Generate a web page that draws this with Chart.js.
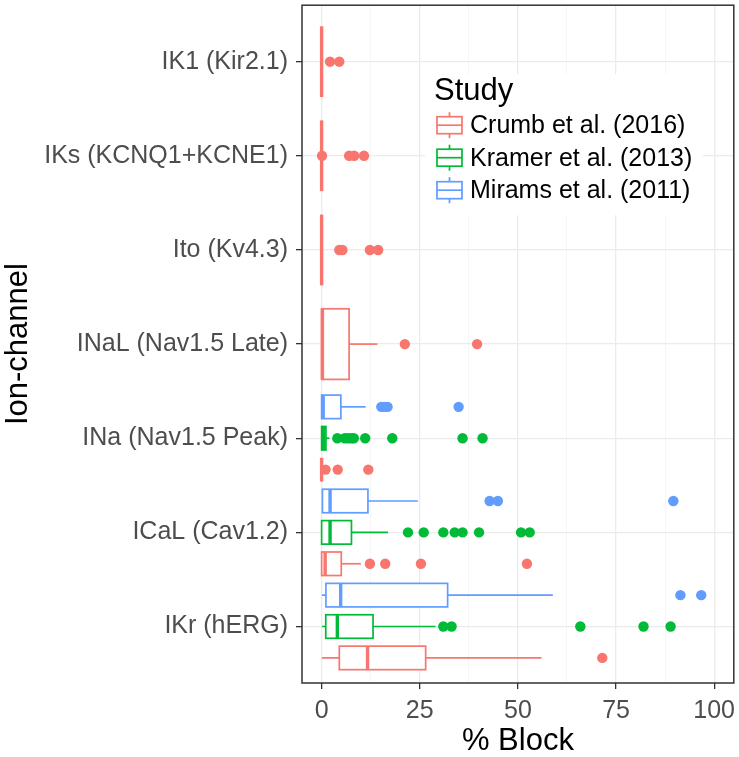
<!DOCTYPE html>
<html>
<head>
<meta charset="utf-8">
<script src="https://cdn.jsdelivr.net/npm/chart.js@4"></script>
<style>
  body { margin: 0; background: #fff; }
  #wrap { width: 739px; height: 757px; }
</style>
</head>
<body>
<div id="wrap"><canvas id="boxChart"></canvas></div>
<script>
// channels from bottom to top of the y axis
var channels = ['IKr (hERG)', 'ICaL (Cav1.2)', 'INa (Nav1.5 Peak)', 'INaL (Nav1.5 Late)',
                'Ito (Kv4.3)', 'IKs (KCNQ1+KCNE1)', 'IK1 (Kir2.1)'];
var studies = ['Crumb et al. (2016)', 'Kramer et al. (2013)', 'Mirams et al. (2011)'];
var colors = ['#F8766D', '#00BA38', '#619CFF'];
var xTicks = [0, 25, 50, 75, 100];

// box stats per channel: [lower whisker, q1, median, q3, upper whisker]
var crumbStats = [
  [0.1, 4.5, 11.7, 26.5, 56.0],
  [0, 0, 0.9, 5.0, 10.0],
  [0, 0, 0, 0, 0],
  [0, 0, 0.2, 7.0, 14.2],
  [0, 0, 0, 0, 0],
  [0, 0, 0, 0, 0],
  [0, 0, 0, 0, 0]
];
var kramerStats = [
  [0.1, 1.05, 4.0, 13.1, 29.0],
  [0, 0, 2.15, 7.6, 16.9],
  [0, 0, 0.5, 1.1, 2.0],
  null, null, null, null
];
var miramsStats = [
  [0.1, 1.1, 4.85, 32.1, 58.9],
  [0.2, 0.2, 2.15, 11.8, 24.5],
  [0, 0, 0.4, 4.9, 11.2],
  null, null, null, null
];

// outliers per channel
var crumbOutliers = [
  [71.5],
  [12.3, 16.2, 25.3, 52.3],
  [1.0, 4.1, 11.9],
  [21.2, 39.6],
  [4.5, 5.3, 12.3, 14.4],
  [0.1, 7.0, 8.3, 10.8],
  [2.15, 4.5]
];
var kramerOutliers = [
  [31.0, 33.1, 65.9, 82.0, 88.9],
  [22.0, 26.0, 31.0, 33.9, 35.9, 40.1, 50.8, 53.0],
  [4.0, 5.9, 6.8, 7.6, 8.2, 11.1, 18.0, 35.9, 41.0],
  [], [], [], []
];
var miramsOutliers = [
  [91.4, 96.7],
  [42.8, 44.9, 89.6],
  [15.2, 16.0, 16.8, 34.9],
  [], [], [], []
];

var stats = [crumbStats, kramerStats, miramsStats];
var outliers = [crumbOutliers, kramerOutliers, miramsOutliers];

var FONT = "'Liberation Sans', Arial, sans-serif";

// vertical slot of a study inside one channel (dodged boxes)
function dodge(c, s) {
  var present = [];
  stats.forEach(function(st, k) { if (st[c]) present.push(k); });
  var n = present.length, idx = present.indexOf(s);
  if (n <= 1) return { pos: c + 1, half: 0.375 };
  return { pos: c + 1 + (idx - (n - 1) / 2) / n, half: 0.375 / n };
}

var boxPlugin = {
  id: 'boxes',
  beforeDatasetsDraw: function(chart) {
    var ctx = chart.ctx, xs = chart.scales.x, ys = chart.scales.y;
    ctx.save();
    stats.forEach(function(list, s) {
      list.forEach(function(st, c) {
        if (!st) return;
        var slot = dodge(c, s);
        var yc = ys.getPixelForValue(slot.pos);
        var y0 = ys.getPixelForValue(slot.pos + slot.half);
        var y1 = ys.getPixelForValue(slot.pos - slot.half);
        var px = st.map(function(v) { return xs.getPixelForValue(v); });
        ctx.strokeStyle = colors[s];
        ctx.lineWidth = 1.7;
        ctx.beginPath();
        ctx.moveTo(px[0], yc); ctx.lineTo(px[1], yc);
        ctx.moveTo(px[3], yc); ctx.lineTo(px[4], yc);
        ctx.stroke();
        ctx.fillStyle = '#fff';
        ctx.fillRect(px[1], y0, px[3] - px[1], y1 - y0);
        ctx.strokeRect(px[1], y0, px[3] - px[1], y1 - y0);
        ctx.lineWidth = 3.4;
        ctx.beginPath();
        ctx.moveTo(px[2], y0); ctx.lineTo(px[2], y1);
        ctx.stroke();
      });
    });
    ctx.restore();
  },
  afterDatasetsDraw: function(chart) {
    var ctx = chart.ctx, a = chart.chartArea;
    ctx.save();
    // legend inside the panel
    var lx = a.left + 123, ly = a.top + 69;
    ctx.fillStyle = '#fff';
    ctx.fillRect(lx, ly, 278, 141);
    ctx.fillStyle = '#000';
    ctx.font = '31px ' + FONT;
    ctx.textBaseline = 'alphabetic';
    ctx.textAlign = 'left';
    ctx.fillText('Study', lx + 9, ly + 26);
    ctx.font = '25px ' + FONT;
    ctx.textBaseline = 'middle';
    studies.forEach(function(name, s) {
      var cy = ly + 51 + s * 32.5, kx = lx + 12;
      ctx.strokeStyle = colors[s];
      ctx.lineWidth = 1.7;
      ctx.beginPath();
      ctx.moveTo(kx + 12.5, cy - 13); ctx.lineTo(kx + 12.5, cy + 13);
      ctx.stroke();
      ctx.fillStyle = '#fff';
      ctx.fillRect(kx, cy - 8.5, 25, 17);
      ctx.strokeRect(kx, cy - 8.5, 25, 17);
      ctx.beginPath();
      ctx.moveTo(kx, cy); ctx.lineTo(kx + 25, cy);
      ctx.stroke();
      ctx.fillStyle = '#000';
      ctx.fillText(name, kx + 33, cy + 1);
    });
    // panel border
    ctx.strokeStyle = '#333';
    ctx.lineWidth = 1.5;
    ctx.strokeRect(a.left, a.top, a.right - a.left, a.bottom - a.top);
    ctx.restore();
  }
};

var datasets = studies.map(function(name, s) {
  var pts = [];
  outliers[s].forEach(function(vals, c) {
    var slot = dodge(c, s);
    vals.forEach(function(v) { pts.push({ x: v, y: slot.pos }); });
  });
  return {
    label: name,
    data: pts,
    backgroundColor: colors[s],
    borderWidth: 0,
    pointRadius: 5.2
  };
});

var minorX = [12.5, 37.5, 62.5, 87.5];

new Chart(document.getElementById('boxChart').getContext('2d'), {
  type: 'scatter',
  data: { datasets: datasets },
  plugins: [boxPlugin],
  options: {
    responsive: true,
    maintainAspectRatio: false,
    animation: false,
    layout: { padding: { top: 1, right: 3, left: 0, bottom: 0 } },
    plugins: { legend: { display: false }, tooltip: { enabled: false } },
    scales: {
      x: {
        type: 'linear',
        min: -5,
        max: 105,
        afterBuildTicks: function(scale) {
          scale.ticks = xTicks.concat(minorX).sort(function(a, b) { return a - b; })
            .map(function(v) { return { value: v }; });
        },
        afterFit: function(scale) {
          scale.height = 74;
          scale.paddingLeft = 0;
          scale.paddingRight = 0;
        },
        ticks: {
          autoSkip: false,
          maxRotation: 0,
          padding: 7,
          color: '#4D4D4D',
          font: { family: FONT, size: 25 },
          callback: function(v) { return xTicks.indexOf(v) >= 0 ? String(v) : ''; }
        },
        grid: {
          color: function(c) { return xTicks.indexOf(c.tick.value) >= 0 ? '#EBEBEB' : '#F4F4F4'; },
          lineWidth: function(c) { return xTicks.indexOf(c.tick.value) >= 0 ? 1.3 : 0.8; },
          tickColor: function(c) { return xTicks.indexOf(c.tick.value) >= 0 ? '#333' : 'rgba(0,0,0,0)'; },
          tickLength: 6
        },
        border: { display: false },
        title: {
          display: true,
          text: '% Block',
          color: '#000',
          font: { family: FONT, size: 31, lineHeight: 1.0 },
          padding: { top: 0, bottom: 0 }
        }
      },
      y: {
        type: 'linear',
        min: 0.4,
        max: 7.6,
        afterBuildTicks: function(scale) {
          scale.ticks = channels.map(function(c, i) { return { value: i + 1 }; });
        },
        afterFit: function(scale) {
          scale.width = 302;
          scale.paddingTop = 0;
          scale.paddingBottom = 0;
        },
        ticks: {
          autoSkip: false,
          padding: 8,
          color: '#4D4D4D',
          font: { family: FONT, size: 25 },
          callback: function(v) { return channels[v - 1]; }
        },
        grid: {
          color: '#EBEBEB',
          lineWidth: 1.3,
          tickColor: '#333',
          tickLength: 6
        },
        border: { display: false },
        title: {
          display: true,
          text: 'Ion-channel',
          color: '#000',
          font: { family: FONT, size: 31 },
          padding: { top: 0, bottom: 0 }
        }
      }
    }
  }
});
</script>
</body>
</html>
